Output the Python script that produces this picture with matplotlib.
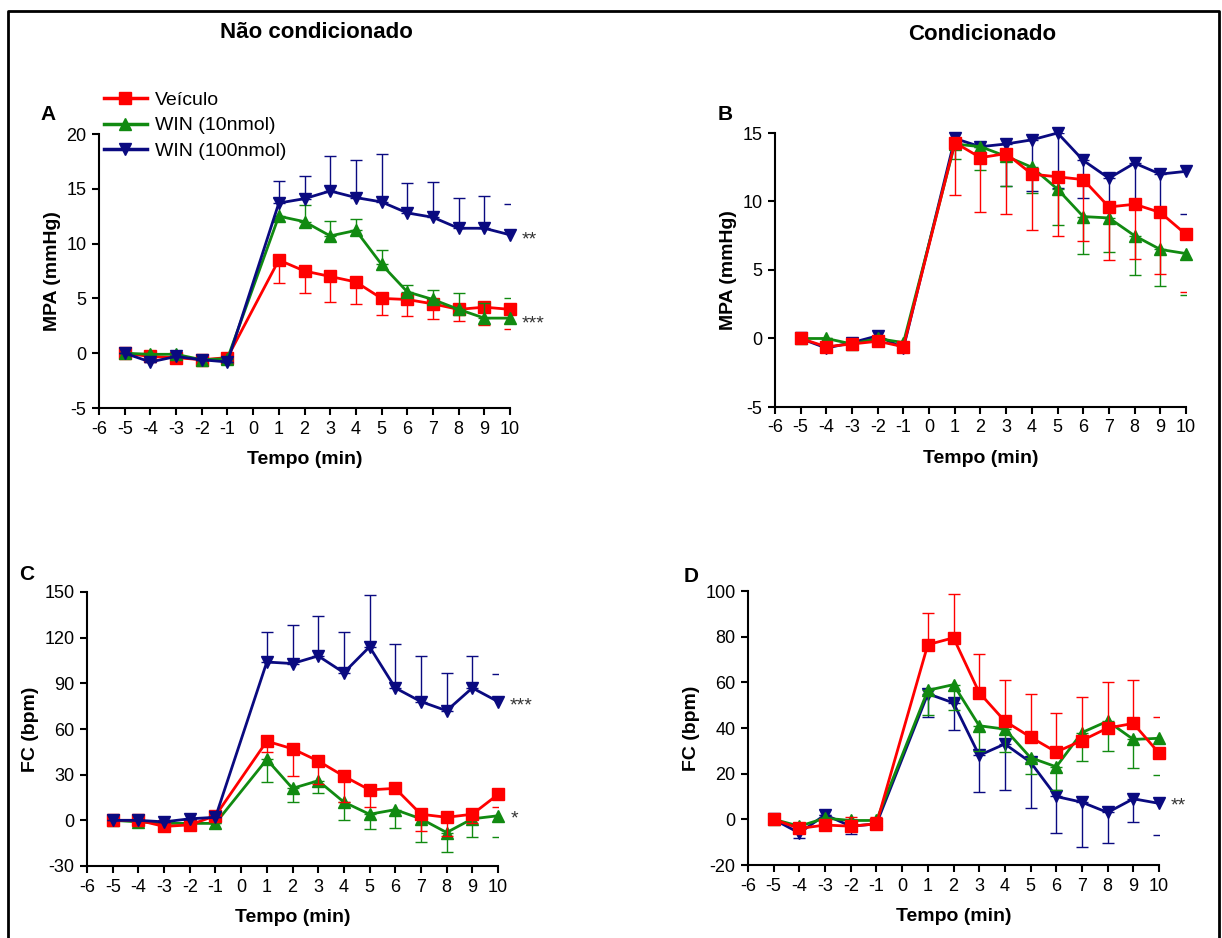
import numpy as np
import matplotlib
matplotlib.use('Agg')
import matplotlib.pyplot as plt
from matplotlib.lines import Line2D

plt.rcParams['font.family'] = ['Liberation Sans', 'DejaVu Sans']
plt.rcParams['axes.unicode_minus'] = False

# time points (min), no point at 0
tempo = [-5, -4, -3, -2, -1, 1, 2, 3, 4, 5, 6, 7, 8, 9, 10]

# Panel A - MPA, nao condicionado
a_veic = [0, -0.3, -0.4, -0.6, -0.4, 8.5, 7.5, 7.0, 6.5, 5.0, 4.9, 4.5, 4.0, 4.2, 4.0]
a_veic_err = [0, 0, 0, 0, 0, 2.1, 2.0, 2.3, 2.0, 1.5, 1.5, 1.4, 1.1, 1.6, 1.8]
a_w10 = [0, -0.1, -0.1, -0.6, -0.5, 12.5, 12.0, 10.7, 11.2, 8.1, 5.6, 4.9, 4.0, 3.2, 3.2]
a_w10_err = [0, 0, 0, 0, 0, 1.7, 1.5, 1.4, 1.0, 1.3, 0.6, 0.9, 1.5, 1.4, 1.8]
a_w100 = [0, -0.8, -0.3, -0.6, -0.8, 13.7, 14.1, 14.8, 14.2, 13.8, 12.8, 12.4, 11.4, 11.4, 10.8]
a_w100_err = [0, 0, 0, 0, 0, 2.0, 2.1, 3.2, 3.4, 4.4, 2.7, 3.2, 2.8, 2.9, 2.8]

# Panel B - MPA, condicionado
b_veic = [0, -0.6, -0.4, -0.2, -0.6, 14.3, 13.2, 13.5, 12.0, 11.8, 11.6, 9.6, 9.8, 9.2, 7.6]
b_veic_err = [0, 0, 0, 0, 0, 3.8, 4.0, 4.4, 4.1, 4.3, 4.5, 3.9, 4.0, 4.5, 4.2]
b_w10 = [0, 0, -0.4, 0, -0.3, 14.2, 14.0, 13.3, 12.5, 10.9, 8.9, 8.8, 7.5, 6.5, 6.2]
b_w10_err = [0, 0, 0, 0, 0, 1.1, 1.7, 2.2, 1.9, 2.6, 2.7, 2.5, 2.9, 2.7, 3.0]
b_w100 = [0, -0.7, -0.3, 0.2, -0.7, 14.6, 14.0, 14.2, 14.5, 15.0, 13.0, 11.7, 12.8, 12.0, 12.2]
b_w100_err = [0, 0, 0, 0, 0, 0.5, 0.5, 3.1, 3.7, 4.0, 2.75, 2.5, 3.0, 3.0, 3.1]

# Panel C - FC, nao condicionado
c_veic = [0, 0, -4, -3, 3, 52, 47, 39, 29, 20, 21, 4, 2, 4, 17]
c_veic_err = [0, 0, 0, 0, 0, 7, 18, 15, 17, 11, 3, 11, 12, 6, 8]
c_w10 = [0, -1, -2, -2, -2, 40, 21, 26, 12, 4, 7, 1, -8, 1, 3]
c_w10_err = [0, 0, 0, 0, 0, 15, 9, 8, 12, 10, 12, 15, 13, 12, 14]
c_w100 = [0, 0, -1, 1, 2, 104, 103, 108, 97, 114, 87, 78, 72, 87, 78]
c_w100_err = [0, 0, 0, 0, 0, 20, 25, 26, 27, 34, 29, 30, 25, 21, 18]

# Panel D - FC, condicionado
d_veic = [0, -4, -2.5, -3, -2, 76.5, 79.5, 55.5, 43, 36, 29.5, 34.5, 40, 42, 29]
d_veic_err = [0, 0, 0, 4, 3, 14, 19, 17, 18, 19, 17, 19, 20, 19, 16]
d_w10 = [0, -3, 0.5, -0.5, -0.5, 56.5, 59, 41, 39.5, 27, 23, 38, 43, 35, 35.5]
d_w10_err = [0, 0, 0, 0, 0, 11, 11, 11, 10, 7, 10, 12.5, 13, 12.5, 16]
d_w100 = [0, -6, 2, -3, -2, 55, 51, 28, 33, 25, 10, 7.5, 3, 9, 7]
d_w100_err = [0, 2, 0, 3.5, 2, 10, 12, 16, 20, 20, 16, 19.5, 13.5, 10, 14]

RED = '#ff0000'
GREEN = '#118a11'
NAVY = '#0a0a80'

W, H = 1222, 938
fig = plt.figure(figsize=(W / 100, H / 100), dpi=100)


def ax_at(l, t, r, b):
    return fig.add_axes([l / W, 1 - b / H, (r - l) / W, (b - t) / H])


def draw_series(ax, y, err, color, marker, ms, side, z):
    y = np.array(y, dtype=float)
    err = np.array(err, dtype=float)
    if side == 'up':
        yerr = [np.zeros_like(err), err]
        tip = y + err
    else:
        yerr = [err, np.zeros_like(err)]
        tip = y - err
    # last point sits on the axis edge: only its cap shows
    ax.errorbar(tempo[:-1], y[:-1], yerr=[e[:-1] for e in yerr], fmt='none',
                ecolor=color, elinewidth=1, capsize=4, capthick=1, zorder=z)
    ax.plot([tempo[-1]], [tip[-1]], marker='_', ms=9, mew=1, color=color,
            ls='none', zorder=z)
    ax.plot(tempo, y, color=color, lw=2, marker=marker, ms=ms,
            clip_on=False, zorder=z + 1)


def style(ax, ylim, yticks, ylabel):
    ax.set_xlim(-6, 10)
    ax.set_ylim(*ylim)
    ax.set_xticks(range(-6, 11))
    ax.set_yticks(yticks)
    for s in ['top', 'right']:
        ax.spines[s].set_visible(False)
    for s in ['left', 'bottom']:
        ax.spines[s].set_linewidth(1.5)
    ax.tick_params(labelsize=13, width=1.5, length=5, direction='out', pad=4)
    ax.set_xlabel('Tempo (min)', fontsize=14, fontweight='bold', labelpad=10)
    ax.set_ylabel(ylabel, fontsize=14, fontweight='bold', labelpad=4)


# panel A
axA = ax_at(99, 134, 510, 408)
draw_series(axA, a_veic, a_veic_err, RED, 's', 8, 'down', 3)
draw_series(axA, a_w10, a_w10_err, GREEN, '^', 8, 'up', 5)
draw_series(axA, a_w100, a_w100_err, NAVY, 'v', 8, 'up', 7)
style(axA, (-5, 20), [-5, 0, 5, 10, 15, 20], 'MPA (mmHg)')

# panel B
axB = ax_at(775, 133, 1186, 407)
draw_series(axB, b_w100, b_w100_err, NAVY, 'v', 8, 'down', 3)
draw_series(axB, b_w10, b_w10_err, GREEN, '^', 8, 'down', 5)
draw_series(axB, b_veic, b_veic_err, RED, 's', 8, 'down', 7)
style(axB, (-5, 15), [-5, 0, 5, 10, 15], 'MPA (mmHg)')

# panel C
axC = ax_at(87, 592, 498, 866)
draw_series(axC, c_w10, c_w10_err, GREEN, '^', 8, 'down', 3)
draw_series(axC, c_veic, c_veic_err, RED, 's', 8, 'down', 5)
draw_series(axC, c_w100, c_w100_err, NAVY, 'v', 8, 'up', 7)
style(axC, (-30, 150), [-30, 0, 30, 60, 90, 120, 150], 'FC (bpm)')

# panel D
axD = ax_at(748, 591, 1159, 865)
draw_series(axD, d_w100, d_w100_err, NAVY, 'v', 8, 'down', 3)
draw_series(axD, d_w10, d_w10_err, GREEN, '^', 8, 'down', 5)
draw_series(axD, d_veic, d_veic_err, RED, 's', 8, 'up', 7)
style(axD, (-20, 100), [-20, 0, 20, 40, 60, 80, 100], 'FC (bpm)')

# legend
handles = [Line2D([], [], color=RED, lw=2.5, marker='s', ms=8),
           Line2D([], [], color=GREEN, lw=2.5, marker='^', ms=8),
           Line2D([], [], color=NAVY, lw=2.5, marker='v', ms=8)]
fig.legend(handles, ['Veículo', 'WIN (10nmol)', 'WIN (100nmol)'],
           loc='upper left', bbox_to_anchor=(104 / W, 1 - 91 / H),
           frameon=False, fontsize=14, handlelength=2.2, handletextpad=0.4,
           labelspacing=0.42, borderaxespad=0, borderpad=0)

# titles and panel letters
fig.text(316 / W, 1 - 32 / H, 'Não condicionado', fontsize=16, fontweight='bold',
         ha='center', va='center')
fig.text(982 / W, 1 - 35 / H, 'Condicionado', fontsize=16, fontweight='bold',
         ha='center', va='center')
for lab, x, y in [('A', 48, 114), ('B', 725, 115), ('C', 27, 575), ('D', 691, 577)]:
    fig.text(x / W, 1 - y / H, lab, fontsize=15, fontweight='bold',
             ha='center', va='center')

# significance marks
for s, x, y in [('**', 522, 240), ('***', 522, 324), ('***', 510, 706),
                ('*', 511, 819), ('**', 1171, 806)]:
    fig.text(x / W, 1 - y / H, s, fontsize=14, color='#333333',
             ha='left', va='center')

# outer frame (top, left, right)
fig.add_artist(Line2D([8 / W, 8 / W, 1219 / W, 1219 / W],
                      [0, 1 - 11 / H, 1 - 11 / H, 0],
                      transform=fig.transFigure, color='black', lw=2))

fig.savefig('out.png', dpi=100)
